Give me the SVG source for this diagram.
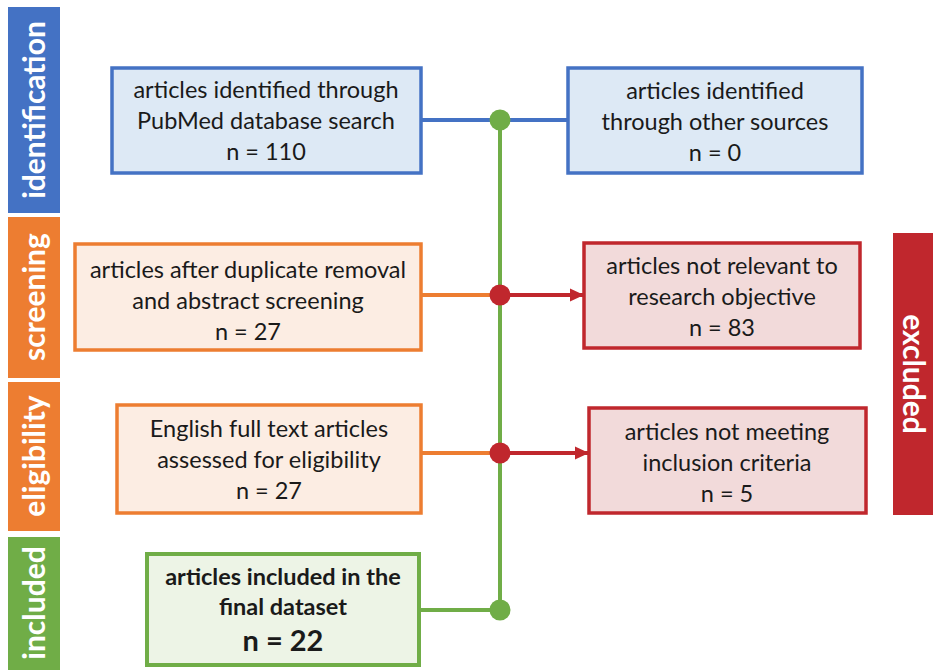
<svg xmlns="http://www.w3.org/2000/svg" width="933" height="670" viewBox="0 0 933 670">
<style>
.t{font-family:Lato,"Liberation Sans",sans-serif;font-size:23.5px;fill:#1a1a1a;text-anchor:middle}
.b{font-weight:bold}
.side{font-family:Lato,"Liberation Sans",sans-serif;font-size:30px;font-weight:bold;fill:#fff;text-anchor:middle}
.bl{fill:#dde9f5;stroke:#4472c4;stroke-width:3.5}
.or{fill:#fcede3;stroke:#ed7d31;stroke-width:3.5}
.rd{fill:#f2dada;stroke:#c0272d;stroke-width:3.5}
.gr{fill:#edf4e6;stroke:#70ad47;stroke-width:4}
</style>
<defs>
<marker id="ah" markerWidth="14" markerHeight="14" refX="13" refY="7" orient="auto" markerUnits="userSpaceOnUse" viewBox="0 0 14 14">
<path d="M0,0.5 L14,7 L0,13.5 z" fill="#c0272d"/>
</marker>
</defs>
<rect width="933" height="670" fill="#fff"/>
<g id="bars">
<g id="bar-identification"><rect x="8" y="7" width="52" height="206" fill="#4472c4"/><text class="side" transform="translate(45,110) rotate(-90)">identification</text></g>
<g id="bar-screening"><rect x="8" y="217" width="52" height="161" fill="#ed7d31"/><text class="side" transform="translate(45,297) rotate(-90)">screening</text></g>
<g id="bar-eligibility"><rect x="8" y="382" width="52" height="149" fill="#ed7d31"/><text class="side" transform="translate(45,456) rotate(-90)">eligibility</text></g>
<g id="bar-included"><rect x="8" y="537" width="52" height="133" fill="#70ad47"/><text class="side" transform="translate(45,603) rotate(-90)">included</text></g>
<g id="bar-excluded"><rect x="893" y="233" width="40" height="282" fill="#c0272d"/><text class="side" transform="translate(903,374) rotate(90)">excluded</text></g>
</g>
<g id="connectors" fill="none">
<line x1="421" y1="120" x2="568" y2="120" stroke="#4472c4" stroke-width="4"/>
<line x1="500" y1="120" x2="500" y2="610" stroke="#70ad47" stroke-width="4"/>
<line x1="421" y1="295" x2="500" y2="295" stroke="#ed7d31" stroke-width="4"/>
<line x1="500" y1="295" x2="583" y2="295" stroke="#c0272d" stroke-width="4" marker-end="url(#ah)"/>
<line x1="421" y1="453" x2="500" y2="453" stroke="#ed7d31" stroke-width="4"/>
<line x1="500" y1="453" x2="588" y2="453" stroke="#c0272d" stroke-width="4" marker-end="url(#ah)"/>
<line x1="419" y1="610" x2="500" y2="610" stroke="#70ad47" stroke-width="4"/>
<circle cx="500" cy="120" r="10.5" fill="#70ad47" stroke="none"/>
<circle cx="500" cy="295" r="10.5" fill="#c0272d" stroke="none"/>
<circle cx="500" cy="453" r="10.5" fill="#c0272d" stroke="none"/>
<circle cx="500" cy="610" r="10.5" fill="#70ad47" stroke="none"/>
</g>
<g id="n-pubmed"><rect class="bl" x="112" y="68" width="309" height="105"/>
<text class="t" x="266" y="98">articles identified through</text>
<text class="t" x="266" y="129">PubMed database search</text>
<text class="t" x="266" y="160">n = 110</text></g>
<g id="n-other"><rect class="bl" x="568" y="68" width="294" height="105"/>
<text class="t" x="715" y="99">articles identified</text>
<text class="t" x="715" y="130">through other sources</text>
<text class="t" x="715" y="161">n = 0</text></g>
<g id="n-screen"><rect class="or" x="75" y="244" width="346" height="106"/>
<text class="t" x="248" y="278">articles after duplicate removal</text>
<text class="t" x="248" y="309">and abstract screening</text>
<text class="t" x="248" y="340">n = 27</text></g>
<g id="n-notrel"><rect class="rd" x="584" y="243" width="276" height="105"/>
<text class="t" x="722" y="274">articles not relevant to</text>
<text class="t" x="722" y="305">research objective</text>
<text class="t" x="722" y="336">n = 83</text></g>
<g id="n-elig"><rect class="or" x="117" y="405" width="304" height="108"/>
<text class="t" x="269" y="437">English full text articles</text>
<text class="t" x="269" y="468">assessed for eligibility</text>
<text class="t" x="269" y="499">n = 27</text></g>
<g id="n-notmeet"><rect class="rd" x="589" y="408" width="277" height="105"/>
<text class="t" x="727" y="440">articles not meeting</text>
<text class="t" x="727" y="471">inclusion criteria</text>
<text class="t" x="727" y="502">n = 5</text></g>
<g id="n-included"><rect class="gr" x="147" y="554" width="272" height="111"/>
<text class="t b" x="283" y="585">articles included in the</text>
<text class="t b" x="283" y="615">final dataset</text>
<text class="t b" x="283" y="651" style="font-size:29px">n = 22</text></g>
</svg>
